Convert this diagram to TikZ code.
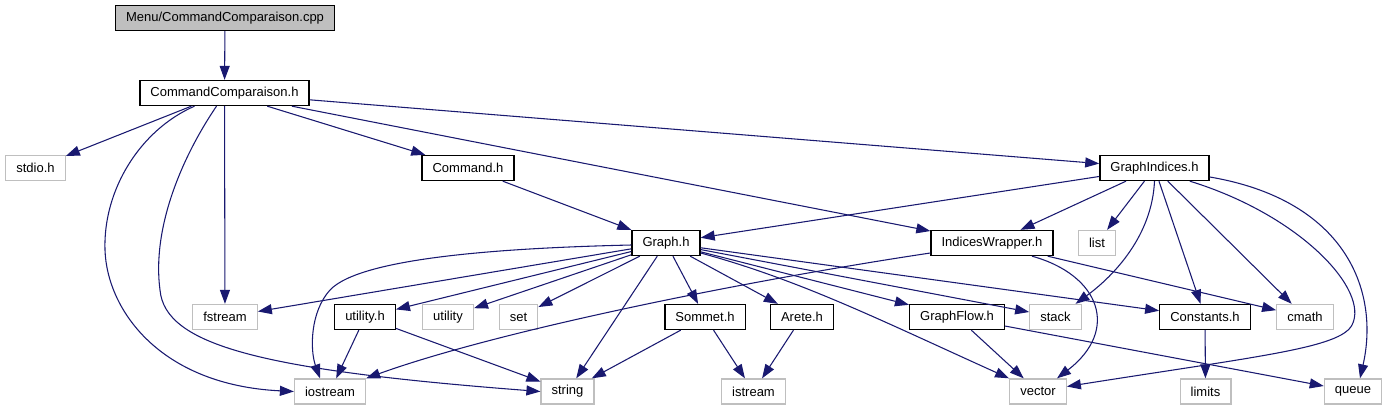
\documentclass[tikz,border=0pt]{standalone}
\usepackage{fontspec}
\setmainfont{Liberation Sans}
\usepackage{xcolor}
\usepackage{tikz}
\usetikzlibrary{positioning, arrows.meta, calc}
\definecolor{edgeblue}{RGB}{25,25,112}
\definecolor{sysgray}{RGB}{191,191,191}

\begin{document}
\begin{tikzpicture}[
    x=0.75pt, y=-0.75pt,
    hdr/.style={rectangle, draw=black, line width=1pt, minimum height=18.75pt, inner xsep=7.9pt, inner ysep=0pt, font=\fontsize{9.75}{11}\selectfont},
    sys/.style={hdr, draw=sysgray},
    src/.style={hdr, fill=sysgray},
    dep/.style={-{Triangle[length=10.5pt, width=7.5pt]}, draw=edgeblue, line width=0.8pt}
]
\useasboundingbox (0,0) rectangle (1387,411);

\node[src] (cpp) at (225,18) {Menu/CommandComparaison.cpp};
\node[hdr] (cmdcmp) at (224.5,93) {CommandComparaison.h};
\node[sys] (stdio) at (35.5,168) {stdio.h};
\node[hdr] (command) at (468,168) {Command.h};
\node[hdr] (indices) at (1154.5,168) {GraphIndices.h};
\node[hdr] (graph) at (666,243) {Graph.h};
\node[hdr] (wrapper) at (992,243) {IndicesWrapper.h};
\node[sys] (list) at (1097,243) {list};
\node[sys] (fstream) at (225,317) {fstream};
\node[hdr] (utilityh) at (365,317) {utility.h};
\node[sys] (utility) at (448,317) {utility};
\node[sys] (set) at (518.5,317) {set};
\node[hdr] (sommet) at (705,317) {Sommet.h};
\node[hdr] (arete) at (802,317) {Arete.h};
\node[hdr] (flow) at (957,317) {GraphFlow.h};
\node[sys] (stack) at (1055.5,317) {stack};
\node[hdr] (consts) at (1205,317) {Constants.h};
\node[sys] (cmath) at (1305,317) {cmath};
\node[sys] (iostream) at (330,391.5) {iostream};
\node[sys] (string) at (567.5,391.5) {string};
\node[sys] (istream) at (753.5,391.5) {istream};
\node[sys] (vector) at (1038,391.5) {vector};
\node[sys] (limits) at (1205.5,391.5) {limits};
\node[sys] (queue) at (1353,391.5) {queue};

\draw[dep] (cpp) -- (cmdcmp);
\draw[dep] (cmdcmp) -- (stdio);
\draw[dep] ($(cmdcmp.south)+(-30,0)$) .. controls (140,130) and (103,190) .. (105,250) .. controls (107,310) and (160,385) .. (iostream.west);
\draw[dep] ($(cmdcmp.south)+(-8,0)$) .. controls (180,160) and (152,230) .. (160,290) .. controls (165,345) and (260,370) .. (string.west);
\draw[dep] (cmdcmp) -- (fstream);
\draw[dep] (cmdcmp) -- (command);
\draw[dep] (cmdcmp) -- (wrapper);
\draw[dep] (cmdcmp) -- (indices);

\draw[dep] (command) -- (graph);

\draw[dep] (indices) -- (graph);
\draw[dep] (indices) -- (wrapper);
\draw[dep] (indices) -- (list);
\draw[dep] (indices.south) .. controls (1152,235) and (1115,275) .. ($(stack.north)+(20,0)$);
\draw[dep] (indices) -- (consts);
\draw[dep] (indices) -- (cmath);
\draw[dep] ($(indices.south east)+(-20,0)$) .. controls (1300,215) and (1370,290) .. (1352,325) .. controls (1340,348) and (1260,356) .. ($(vector.east)+(0,-5)$);
\draw[dep] ($(indices.east)+(0,9)$) .. controls (1345,200) and (1380,290) .. ($(queue.north)+(7,0)$);

\draw[dep] ($(wrapper.west)+(0,10)$) .. controls (750,280) and (500,330) .. (iostream.north east);
\draw[dep] ($(wrapper.south)+(40,0)$) .. controls (1100,275) and (1120,330) .. ($(vector.north)+(19,0)$);
\draw[dep] (wrapper) -- (cmath);

\draw[dep] (graph) -- (fstream);
\draw[dep] ($(graph.west)+(0,2)$) .. controls (500,248) and (360,258) .. (330,290) .. controls (310,312) and (310,350) .. ($(iostream.north)+(-10,0)$);
\draw[dep] (graph) -- (utilityh);
\draw[dep] (graph) -- (utility);
\draw[dep] (graph) -- (set);
\draw[dep] (graph) -- (string);
\draw[dep] (graph) -- (sommet);
\draw[dep] (graph) -- (arete);
\draw[dep] (graph) -- (flow);
\draw[dep] (graph) -- (stack);
\draw[dep] (graph) -- (consts);
\draw[dep] ($(graph.east)+(0,10)$) .. controls (800,280) and (880,320) .. (vector.north west);

\draw[dep] (utilityh) -- (iostream);
\draw[dep] (utilityh) -- (string);
\draw[dep] (sommet) -- (string);
\draw[dep] (sommet) -- (istream);
\draw[dep] (arete) -- (istream);
\draw[dep] (flow) -- (vector);
\draw[dep] (flow) -- (queue);
\draw[dep] (consts) -- (limits);
\end{tikzpicture}
\end{document}
